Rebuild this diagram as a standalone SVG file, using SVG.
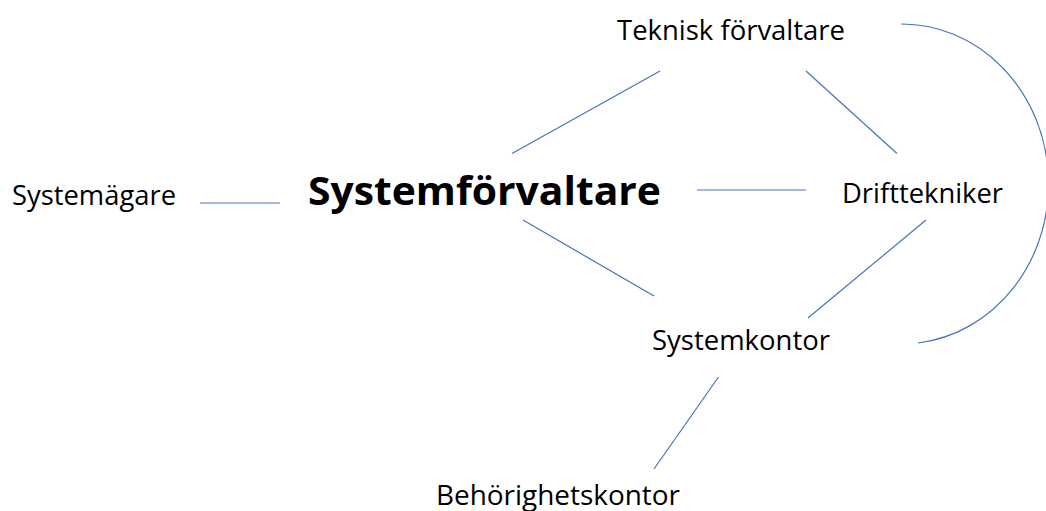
<svg xmlns="http://www.w3.org/2000/svg" width="1046" height="511" viewBox="0 0 1046 511">
<style>
.lbl{font-family:"Open Sans","Noto Sans","Liberation Sans",sans-serif;font-size:28px;fill:#000}
.big{font-family:"Open Sans","Noto Sans","Liberation Sans",sans-serif;font-size:39px;font-weight:bold;fill:#000}
.con{stroke:#4472C4;stroke-width:1.2;fill:none}
</style>
<rect width="1046" height="511" fill="#fff"/>
<g id="connectors">
<line class="con" x1="200" y1="203" x2="280" y2="203"/>
<line class="con" x1="660" y1="71" x2="512" y2="153.5"/>
<line class="con" x1="806" y1="71" x2="897" y2="153.5"/>
<line class="con" x1="697" y1="190" x2="806" y2="190"/>
<line class="con" x1="523" y1="220" x2="654" y2="296"/>
<line class="con" x1="926" y1="220" x2="808" y2="318"/>
<line class="con" x1="718.5" y1="377" x2="654" y2="469"/>
<path class="con" d="M901,24 A147,160 0 0 1 918,343"/>
</g>
<g id="teknisk"><text class="lbl" x="617" y="39.5" textLength="228" lengthAdjust="spacingAndGlyphs">Teknisk förvaltare</text></g>
<g id="systemagare"><text class="lbl" x="12" y="205" textLength="164" lengthAdjust="spacingAndGlyphs">Systemägare</text></g>
<g id="systemforvaltare"><text class="big" x="308" y="205" textLength="353" lengthAdjust="spacingAndGlyphs">Systemförvaltare</text></g>
<g id="drifttekniker"><text class="lbl" x="842" y="203" textLength="161" lengthAdjust="spacingAndGlyphs">Drifttekniker</text></g>
<g id="systemkontor"><text class="lbl" x="652" y="350" textLength="178" lengthAdjust="spacingAndGlyphs">Systemkontor</text></g>
<g id="behorighetskontor"><text class="lbl" x="436" y="505" textLength="244" lengthAdjust="spacingAndGlyphs">Behörighetskontor</text></g>
</svg>
